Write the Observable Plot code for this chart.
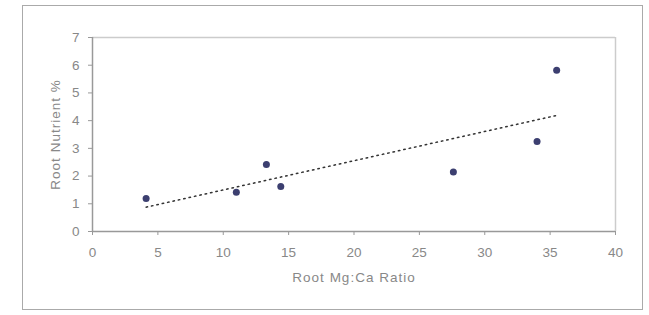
<!DOCTYPE html>
<html><head><meta charset="utf-8">
<script src="https://cdn.jsdelivr.net/npm/d3@7"></script>
<script src="https://cdn.jsdelivr.net/npm/@observablehq/plot@0.6"></script>
<style>
html,body{margin:0;padding:0;background:#fff;}
#wrap{position:relative;width:649px;height:315px;}
#border{position:absolute;left:22px;top:5px;width:621px;height:305px;border:1.5px solid #aaa;box-sizing:border-box;pointer-events:none;}
svg{font-family:"Liberation Sans",Arial,sans-serif;}
.ttl{letter-spacing:1px;}
</style></head>
<body><div id="wrap"><div id="border"></div></div>
<script>
const mgCaRatio = [4.1, 11.0, 13.3, 14.4, 27.6, 34.0, 35.5];
const rootNutrient = [1.19, 1.42, 2.42, 1.62, 2.15, 3.25, 5.82];
const xTicks = [0, 5, 10, 15, 20, 25, 30, 35, 40];
const yTicks = [0, 1, 2, 3, 4, 5, 6, 7];

const data = mgCaRatio.map((x, i) => ({x, y: rootNutrient[i]}));

const chart = Plot.plot({
  width: 649, height: 315,
  marginLeft: 92, marginRight: 34, marginTop: 37, marginBottom: 84,
  style: {fontFamily: '"Liberation Sans", Arial, sans-serif', color: "#888", background: "transparent"},
  x: {domain: [0, 40], ticks: xTicks, label: null},
  y: {domain: [0, 7], ticks: yTicks, label: null},
  marks: [
    Plot.ruleY([7], {stroke: "#ccc", strokeWidth: 1.5}),
    Plot.ruleX([40], {stroke: "#ccc", strokeWidth: 1.5}),
    Plot.axisX({ticks: xTicks, tickFormat: "d", tickSize: 4, tickPadding: 12, fontSize: 13.5, stroke: "#999", fill: "#888", label: null}),
    Plot.axisY({ticks: yTicks, tickFormat: "d", tickSize: 4, tickPadding: 9, fontSize: 13.5, stroke: "#999", fill: "#888", label: null}),
    Plot.ruleY([0], {stroke: "#999", strokeWidth: 1.5}),
    Plot.ruleX([0], {stroke: "#999", strokeWidth: 1.5}),
    Plot.linearRegressionY(data, {x: "x", y: "y", ci: 0, stroke: "#333", strokeWidth: 1.5, strokeDasharray: "1.5,4"}),
    Plot.dot(data, {x: "x", y: "y", r: 3.5, fill: "#3c3f70", stroke: "none"}),
    Plot.text(["Root Mg:Ca Ratio"], {frameAnchor: "bottom", dy: 50, fontSize: 13.5, fill: "#888", className: "ttl"}),
    Plot.text(["Root Nutrient %"], {frameAnchor: "left", textAnchor: "middle", dx: -37, rotate: -90, fontSize: 13.5, fill: "#888", className: "ttl"})
  ]
});
document.getElementById("wrap").appendChild(chart);
</script></body></html>
